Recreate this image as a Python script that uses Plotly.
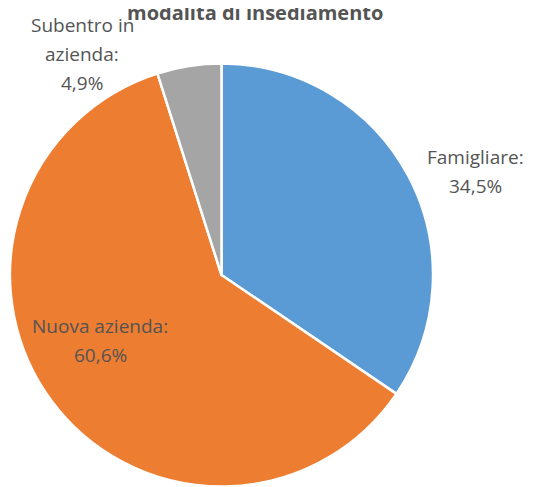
import plotly.graph_objects as go

labels = ["Famigliare", "Nuova azienda", "Subentro in azienda"]
values = [34.5, 60.6, 4.9]
colors = ["#5B9BD5", "#ED7D31", "#A5A5A5"]
title_text = "modalità di insediamento"

W, H = 536, 487
OFF = 8  # page body margin
# desired pie in page pixels: center (221.5, 275), radius 212
CX, CY, RAD = 221.5, 275, 212
L = CX - RAD - OFF
T = CY - RAD - OFF
PW = PH = 2 * RAD
R = W - L - PW
B = H - T - PH

def px(x):
    return (x - OFF - L) / PW

def py(y):
    return (T + PH - (y - OFF)) / PH

fig = go.Figure(go.Pie(
    labels=labels, values=values, sort=False, direction="clockwise", rotation=0,
    marker=dict(colors=colors, line=dict(color="white", width=2.5)),
    textinfo="none", hoverinfo="label+percent", showlegend=False,
))

def fmt(v):
    return f"{v:.1f}".replace(".", ",") + "%"

label_lines = {
    "Famigliare": ["Famigliare:"],
    "Nuova azienda": ["Nuova azienda:"],
    "Subentro in azienda": ["Subentro in", "azienda:"],
}
label_pos = {
    "Famigliare": (476, 157),
    "Nuova azienda": (100, 326),
    "Subentro in azienda": (82, 25),
}
LINE = 29
font = dict(family="Open Sans, Noto Sans, sans-serif", size=19, color="#545454")
for lab, val in zip(labels, values):
    lines = label_lines[lab] + [fmt(val)]
    x, y0 = label_pos[lab]
    for i, ln in enumerate(lines):
        fig.add_annotation(x=px(x), y=py(y0 + i * LINE), xref="paper", yref="paper", text=ln,
                           showarrow=False, font=font, align="center",
                           xanchor="center", yanchor="middle")

fig.add_annotation(x=px(255), y=py(12), xref="paper", yref="paper", text=f"<b>{title_text}</b>",
                   showarrow=False, xanchor="center", yanchor="middle",
                   font=dict(family="Open Sans, Noto Sans, sans-serif", size=20, color="#545454"))

fig.update_layout(width=W, height=H, margin=dict(l=L, r=R, t=T, b=B),
                  paper_bgcolor="white", plot_bgcolor="white")
fig.write_html("out.html")
